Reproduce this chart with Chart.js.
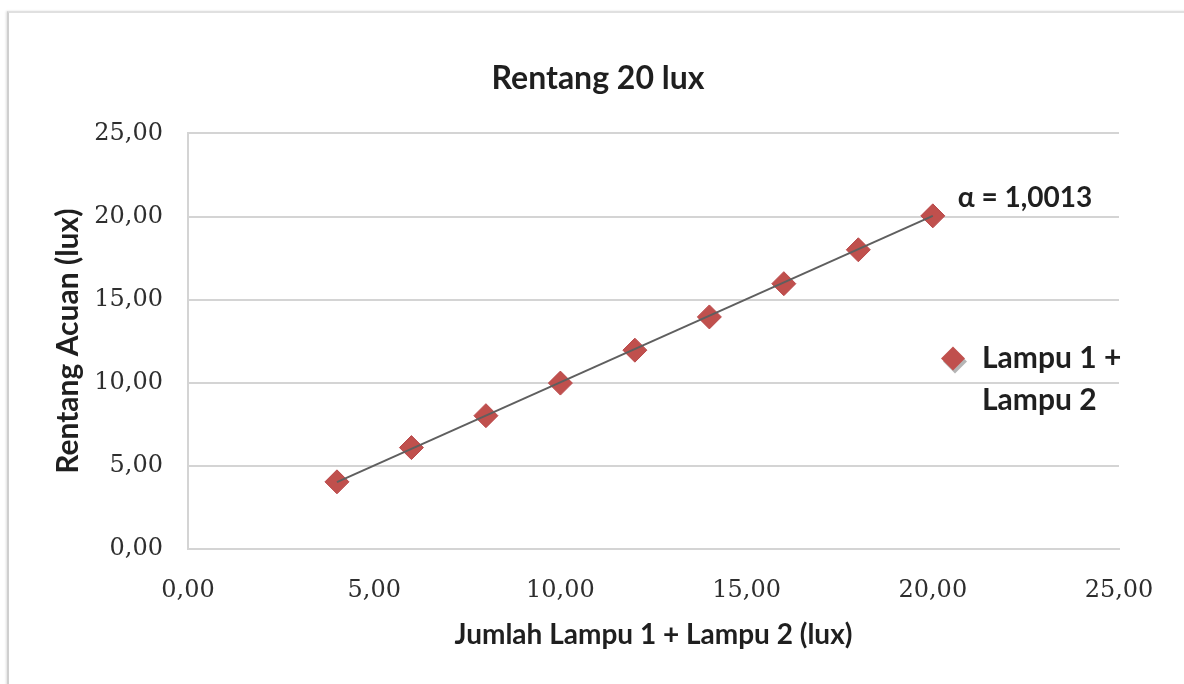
<!DOCTYPE html>
<html>
<head>
<meta charset="utf-8">
<script src="https://cdn.jsdelivr.net/npm/chart.js@4/dist/chart.umd.min.js"></script>
<style>
  html, body { margin: 0; padding: 0; background: #ffffff; }
  #bingkai {
    position: absolute; left: 7px; top: 11px; width: 1200px; height: 700px;
    border-left: 2px solid #cfcfcf; border-top: 2px solid #e0e0e0;
    box-shadow: -1px 0 2px rgba(0,0,0,0.12);
  }
  #wadah { position: absolute; left: 0; top: 0; width: 1184px; height: 684px; }
</style>
</head>
<body>
<div id="bingkai"></div>
<div id="wadah"><canvas id="grafik" width="1184" height="684"></canvas></div>
<script>
// Data pengukuran: jumlah lampu 1 + lampu 2 vs rentang acuan (lux)
const jumlahLampu = [4, 6, 8, 10, 12, 14, 16, 18, 20];
const rentangAcuan = [4.04, 6.10, 8.02, 9.98, 11.96, 13.96, 15.96, 18.00, 20.04];

// Garis tren, ujung kiri dan kanan
const trenX = [4, 20];
const trenY = [4.02, 20.04];

const judul = 'Rentang 20 lux';
const judulX = 'Jumlah Lampu 1 + Lampu 2 (lux)';
const judulY = 'Rentang Acuan (lux)';
const labelSeri = ['Lampu 1 +', 'Lampu 2'];
const teksAlpha = 'α = 1,0013';

const warnaTitik = '#c0504d';
const warnaTeks = '#1f1f1f';
const hurufSans = "Lato, 'Open Sans', sans-serif";
const hurufSerif = "'DejaVu Serif', serif";

// Plugin untuk teks alpha dan legenda di sisi kanan
const pluginTeks = {
  id: 'pluginTeks',
  afterDatasetsDraw(chart) {
    const ctx = chart.ctx;
    const area = chart.chartArea;
    const sx = chart.scales.x, sy = chart.scales.y;
    const n = jumlahLampu.length - 1;
    const px = sx.getPixelForValue(jumlahLampu[n]);
    const py = sy.getPixelForValue(rentangAcuan[n]);

    ctx.save();
    ctx.fillStyle = warnaTeks;
    ctx.font = 'bold 28px ' + hurufSans;
    ctx.textAlign = 'left';
    ctx.textBaseline = 'middle';
    ctx.fillText(teksAlpha, px + 25, py - 18);

    // legenda
    const lx = area.right - 166;
    const ly = area.top + 225;
    const r = 12;
    ctx.fillStyle = 'rgba(120,120,120,0.55)';
    ctx.beginPath();
    ctx.moveTo(lx + 2, ly + 3 - r); ctx.lineTo(lx + 2 + r, ly + 3);
    ctx.lineTo(lx + 2, ly + 3 + r); ctx.lineTo(lx + 2 - r, ly + 3);
    ctx.closePath(); ctx.fill();
    ctx.fillStyle = warnaTitik;
    ctx.beginPath();
    ctx.moveTo(lx, ly - r); ctx.lineTo(lx + r, ly);
    ctx.lineTo(lx, ly + r); ctx.lineTo(lx - r, ly);
    ctx.closePath(); ctx.fill();

    ctx.fillStyle = warnaTeks;
    ctx.font = 'bold 30px ' + hurufSans;
    labelSeri.forEach((t, i) => ctx.fillText(t, lx + 29, ly + i * 42));
    ctx.restore();
  }
};

const formatKoma = v => Number(v).toFixed(2).replace('.', ',');

const grafik = new Chart(document.getElementById('grafik').getContext('2d'), {
  type: 'scatter',
  data: {
    datasets: [{
      type: 'line',
      label: 'Tren',
      data: trenX.map((x, i) => ({ x: x, y: trenY[i] })),
      borderColor: '#5f5f5f',
      borderWidth: 2,
      pointRadius: 0,
      fill: false,
      order: 0
    }, {
      label: labelSeri.join(' '),
      data: jumlahLampu.map((x, i) => ({ x: x, y: rentangAcuan[i] })),
      pointStyle: 'rectRot',
      pointRadius: 12,
      pointHoverRadius: 12,
      backgroundColor: warnaTitik,
      borderColor: '#b9474a',
      borderWidth: 1,
      order: 1
    }]
  },
  options: {
    responsive: false,
    animation: false,
    layout: { padding: { left: 77, right: 65, top: 0, bottom: 0 } },
    scales: {
      x: {
        type: 'linear', min: 0, max: 25,
        afterFit: s => { s.height = 135; },
        ticks: { stepSize: 5, padding: 27, color: '#2e2e2e', font: { family: hurufSerif, size: 24 }, callback: formatKoma },
        grid: { display: false, drawTicks: false },
        border: { display: true, color: '#d4d4d4', width: 2 },
        title: { display: true, text: judulX, color: warnaTeks, padding: { top: 0, bottom: 32 }, font: { family: hurufSans, size: 28, weight: 'bold' } }
      },
      y: {
        min: 0, max: 25,
        afterFit: s => { s.width = 111; },
        ticks: { stepSize: 5, padding: 25, color: '#2e2e2e', font: { family: hurufSerif, size: 24 }, callback: formatKoma },
        grid: { color: '#d4d4d4', lineWidth: 2, drawTicks: false },
        border: { display: true, color: '#d4d4d4', width: 2 },
        title: { display: true, text: judulY, color: warnaTeks, padding: { top: -27, bottom: 0 }, font: { family: hurufSans, size: 30, weight: 'bold' } }
      }
    },
    plugins: {
      legend: { display: false },
      tooltip: { enabled: false },
      title: {
        display: true, text: judul, color: warnaTeks,
        padding: { top: 59, bottom: 36 },
        font: { family: hurufSans, size: 32, weight: 'bold' }
      }
    }
  },
  plugins: [pluginTeks]
});
</script>
</body>
</html>
